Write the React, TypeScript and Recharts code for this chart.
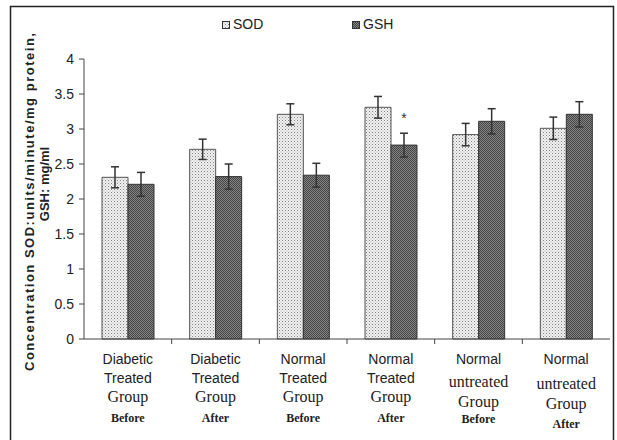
import React from 'react';
import { BarChart, Bar, XAxis, YAxis, ErrorBar, LabelList, Legend } from 'recharts';

const groups = ['DTB', 'DTA', 'NTB', 'NTA', 'NUB', 'NUA'];
const groupLabels = [
  ['Diabetic', 'Treated', 'Group', 'Before'],
  ['Diabetic', 'Treated', 'Group', 'After'],
  ['Normal', 'Treated', 'Group', 'Before'],
  ['Normal', 'Treated', 'Group', 'After'],
  ['Normal', 'untreated', 'Group', 'Before'],
  ['Normal', 'untreated', 'Group', 'After'],
];
const sod = [2.31, 2.71, 3.21, 3.31, 2.92, 3.01];
const sodErr = [0.15, 0.145, 0.15, 0.155, 0.16, 0.16];
const gsh = [2.21, 2.32, 2.34, 2.77, 3.11, 3.21];
const gshErr = [0.17, 0.18, 0.17, 0.17, 0.18, 0.18];
const marks = ['', '', '', '*', '', ''];
const yTicks = [0, 0.5, 1, 1.5, 2, 2.5, 3, 3.5, 4];

const data = groups.map((g, i) => ({
  group: g,
  sod: sod[i],
  sodErr: sodErr[i],
  gsh: gsh[i],
  gshErr: gshErr[i],
  mark: marks[i],
}));

const W = 617;
const H = 440;
const PLOT_LEFT = 84;
const PLOT_RIGHT = 610;
const BAND = (PLOT_RIGHT - PLOT_LEFT) / groups.length;

const sans = '"Liberation Sans", Arial, sans-serif';
const serif = '"Liberation Serif", "Times New Roman", serif';

function GroupTick(props: any) {
  const { x, index } = props;
  const lines = groupLabels[index] || [];
  const untreated = lines[1] === 'untreated';
  const after = index === 5;
  const base = 339;
  return (
    <g>
      {index < groups.length - 1 && (
        <line x1={x + BAND / 2} x2={x + BAND / 2} y1={base} y2={base + 5} stroke="#444" />
      )}
      <text x={x} y={base + 25} textAnchor="middle" fontFamily={sans} fontSize={14} fill="#222">
        {lines[0]}
      </text>
      <text
        x={x}
        y={base + (untreated ? (after ? 50 : 48) : 44)}
        textAnchor="middle"
        fontFamily={untreated ? serif : sans}
        fontSize={untreated ? 16 : 14}
        fill="#222"
      >
        {lines[1]}
      </text>
      <text
        x={x}
        y={base + (untreated ? (after ? 70 : 68) : 63)}
        textAnchor="middle"
        fontFamily={serif}
        fontSize={16}
        fill="#222"
      >
        {lines[2]}
      </text>
      <text
        x={x}
        y={base + (untreated ? (after ? 89 : 84) : 83)}
        textAnchor="middle"
        fontFamily={serif}
        fontWeight="bold"
        fontSize={12}
        fill="#222"
      >
        {lines[3]}
      </text>
    </g>
  );
}

function Swatch({ fill }: { fill: string }) {
  return (
    <svg width={8} height={8} style={{ display: 'inline-block', marginRight: 3, verticalAlign: 'middle' }}>
      <rect x={0.5} y={0.5} width={7} height={7} fill={fill} stroke="#333" />
    </svg>
  );
}

function LegendBox() {
  return (
    <div style={{ position: 'relative', height: 20, fontFamily: sans, fontSize: 14, color: '#222' }}>
      <span style={{ position: 'absolute', left: 222 }}>
        <Swatch fill="url(#sodPat)" />SOD
      </span>
      <span style={{ position: 'absolute', left: 352 }}>
        <Swatch fill="url(#gshPat)" />GSH
      </span>
    </div>
  );
}

function StarLabel(props: any) {
  const { x, y, width, value } = props;
  if (!value) return null;
  return (
    <text x={x + width / 2} y={y - 22} textAnchor="middle" fontFamily={sans} fontSize={14} fill="#333">
      {value}
    </text>
  );
}

export default function App() {
  return (
    <div style={{ position: 'absolute', left: 0, top: 0, width: W, height: H, background: '#fff' }}>
      <BarChart
        width={W}
        height={H}
        data={data}
        margin={{ top: 39, right: W - PLOT_RIGHT, bottom: 11, left: 24 }}
        barGap={0}
        barSize={26}
      >
        <defs>
          <pattern id="sodPat" width={3} height={3} patternUnits="userSpaceOnUse">
            <rect width={3} height={3} fill="#f2f2f2" />
            <rect x={0} y={0} width={1} height={1} fill="#808080" />
            <rect x={1.5} y={1.5} width={1} height={1} fill="#a8a8a8" />
          </pattern>
          <pattern id="gshPat" width={2} height={2} patternUnits="userSpaceOnUse">
            <rect width={2} height={2} fill="#858585" />
            <rect x={0} y={0} width={1} height={1} fill="#444" />
            <rect x={1} y={1} width={1} height={1} fill="#444" />
          </pattern>
        </defs>
        <Legend verticalAlign="top" wrapperStyle={{ top: 16, left: 0, width: W }} content={<LegendBox />} />
        <XAxis
          dataKey="group"
          interval={0}
          height={90}
          tickLine={false}
          axisLine={{ stroke: '#444' }}
          tick={<GroupTick />}
        />
        <YAxis
          width={60}
          domain={[0, 4]}
          ticks={yTicks}
          interval={0}
          tickSize={5}
          tickMargin={5}
          axisLine={{ stroke: '#444' }}
          tickLine={{ stroke: '#444' }}
          tick={{ fill: '#222', fontSize: 14, fontFamily: sans }}
        />
        <Bar dataKey="sod" name="SOD" fill="url(#sodPat)" stroke="#555" strokeWidth={1} isAnimationActive={false}>
          <ErrorBar dataKey="sodErr" width={4} stroke="#333" strokeWidth={1.5} />
        </Bar>
        <Bar dataKey="gsh" name="GSH" fill="url(#gshPat)" stroke="#333" strokeWidth={1} isAnimationActive={false}>
          <ErrorBar dataKey="gshErr" width={4} stroke="#333" strokeWidth={1.5} />
          <LabelList dataKey="mark" content={<StarLabel />} />
        </Bar>
      </BarChart>
      <svg
        width={W}
        height={H}
        style={{ position: 'absolute', left: 0, top: 0, pointerEvents: 'none' }}
      >
        <rect x={10.5} y={6.5} width={603} height={450} fill="none" stroke="#222" strokeWidth={1.5} />
        <text
          transform="translate(34,202) rotate(-90)"
          textAnchor="middle"
          fontFamily={sans}
          fontWeight="bold"
          fontSize={13}
          fill="#222"
          textLength={338}
          lengthAdjust="spacing"
        >
          Concentration SOD:units/minute/mg protein,
        </text>
        <text
          transform="translate(49,184) rotate(-90)"
          textAnchor="middle"
          fontFamily={sans}
          fontWeight="bold"
          fontSize={13}
          fill="#222"
        >
          GSH: mg/ml
        </text>
      </svg>
    </div>
  );
}
